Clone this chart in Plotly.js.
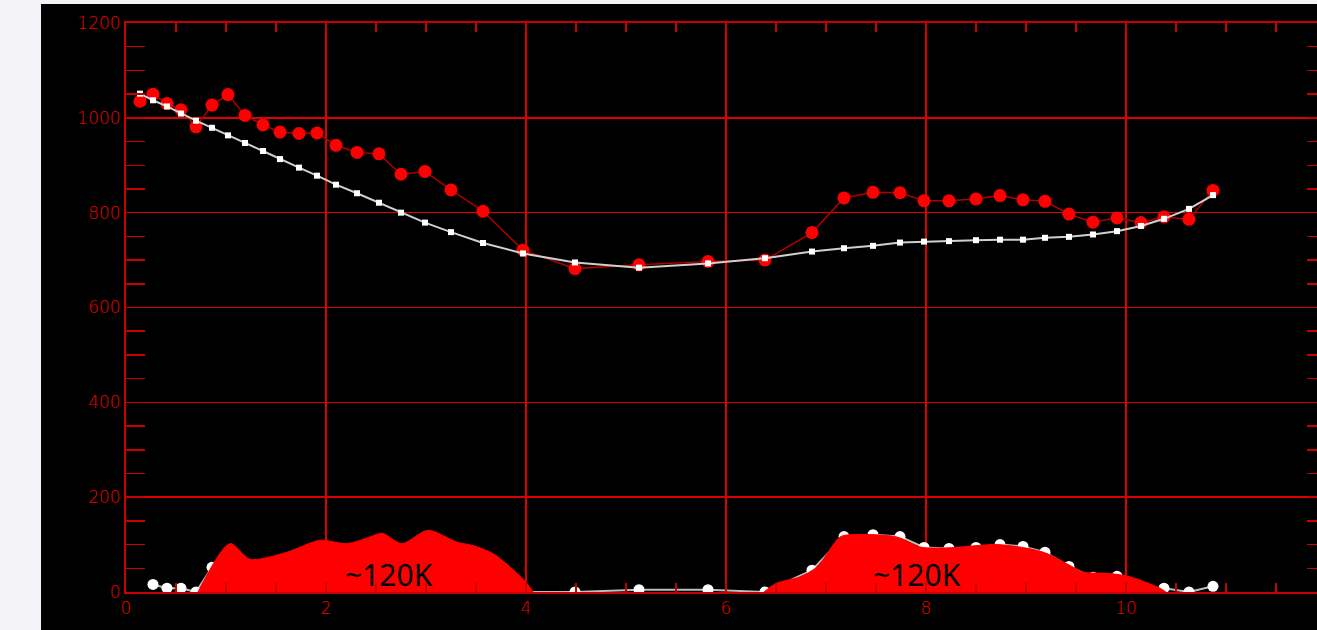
<!DOCTYPE html>
<html>
<head>
<meta charset="utf-8">
<script src="https://cdn.plot.ly/plotly-3.0.1.min.js"></script>
<style>
  html, body { margin: 0; padding: 0; background: #f3f3f8; overflow: hidden; width: 1317px; height: 630px; }
  #chart { position: absolute; left: 41px; top: 4px; width: 1285px; height: 626px; }
</style>
</head>
<body>
<div id="chart"></div>
<script>
// Shared sample positions
const xs = [0.14, 0.27, 0.41, 0.55, 0.70, 0.86, 1.02, 1.19, 1.37, 1.54, 1.73, 1.91, 2.10, 2.31, 2.53, 2.75, 2.99, 3.25, 3.57, 3.97,
            4.49, 5.13, 5.82, 6.39, 6.86, 7.18, 7.47, 7.74, 7.98, 8.23, 8.50, 8.74, 8.97, 9.19, 9.43, 9.67, 9.91, 10.15, 10.38, 10.63, 10.87];
// Red measured series
const redValues = [1035, 1050, 1030, 1017, 981, 1027, 1049, 1005, 985, 970, 967, 968, 942, 927, 924, 881, 887, 848, 803, 721,
                   682, 690, 697, 700, 758, 831, 843, 842, 825, 825, 829, 836, 827, 824, 797, 780, 789, 779, 791, 786, 847];
// White fitted series
const whiteValues = [1051, 1037, 1024, 1009, 994, 979, 963, 947, 930, 913, 895, 878, 859, 841, 821, 800, 779, 759, 736, 714,
                     695, 684, 693, 704, 718, 725, 730, 737, 739, 740, 742, 743, 743, 747, 749, 754, 761, 772, 787, 808, 837];
// White bottom (counts) series
const countValues = [null, 16, 8, 8, 0, 52, 70, 50, 55, 62, 72, 82, 80, 88, 92, 78, 92, 82, 66, 0,
                     0, 5, 5, 0, 46, 117, 121, 117, 94, 92, 94, 100, 96, 84, 54, 31, 33, 0, 8, 0, 12];
// Red filled humps (outline points)
const hump1X = [0.72, 1.04, 1.24, 1.61, 1.94, 2.21, 2.44, 2.56, 2.76, 3.02, 3.31, 3.47, 3.67, 3.84, 4.01, 4.07];
const hump1Y = [0, 102, 69, 84, 109, 102, 116, 124, 102, 130, 105, 98, 81, 53, 18, 0];
const hump2X = [6.38, 6.50, 6.74, 6.91, 7.14, 7.24, 7.71, 7.94, 8.21, 8.71, 9.04, 9.21, 9.44, 9.57, 9.84, 10.04, 10.34, 10.40];
const hump2Y = [0, 18, 32, 53, 116, 121, 116, 95, 93, 100, 91, 81, 56, 42, 39, 32, 8, 0];
// Labels
const humpLabels = ['~120K', '~120K'];
const humpLabelX = [2.63, 7.91];
const humpLabelY = [37, 37];

const gridRed = '#e00000';
const axisRed = '#c80000';
const tickFont = {family: 'DejaVu Sans', size: 17, color: '#ee0000', weight: 200};

const traces = [
  {x: xs, y: countValues, mode: 'lines+markers', type: 'scatter', connectgaps: false,
   line: {color: '#bdbdbd', width: 2}, marker: {color: '#ffffff', size: 11}, hoverinfo: 'skip'},
  {x: hump1X, y: hump1Y, mode: 'lines', type: 'scatter', fill: 'tozeroy', fillcolor: '#ff0000',
   line: {color: '#ff0000', width: 1, shape: 'spline', smoothing: 0.8}, hoverinfo: 'skip'},
  {x: hump2X, y: hump2Y, mode: 'lines', type: 'scatter', fill: 'tozeroy', fillcolor: '#ff0000',
   line: {color: '#ff0000', width: 1, shape: 'spline', smoothing: 0.8}, hoverinfo: 'skip'},
  {x: xs, y: redValues, mode: 'lines+markers', type: 'scatter',
   line: {color: '#b00000', width: 1.5}, marker: {color: '#ff0000', size: 13}},
  {x: xs, y: whiteValues, mode: 'lines+markers', type: 'scatter',
   line: {color: '#cfcfcf', width: 2}, marker: {color: '#ffffff', size: 6, symbol: 'square'}}
];

const annotations = humpLabels.map((t, i) => ({
  x: humpLabelX[i], y: humpLabelY[i], xref: 'x', yref: 'y', text: t, showarrow: false,
  font: {family: 'Noto Sans', size: 30, color: '#000000'}
}));

const layout = {
  width: 1285, height: 626,
  paper_bgcolor: '#000000', plot_bgcolor: '#000000',
  margin: {l: 85, r: 0, t: 19, b: 38.3},
  showlegend: false,
  xaxis: {
    range: [0, 12], dtick: 2, tick0: 0,
    showgrid: true, gridcolor: gridRed, gridwidth: 1.5, zeroline: false,
    showline: true, linecolor: axisRed, linewidth: 2, mirror: 'ticks',
    ticks: 'inside', ticklen: 9, tickcolor: axisRed, tickwidth: 1.5,
    minor: {dtick: 0.5, ticks: 'inside', ticklen: 9, tickcolor: axisRed, tickwidth: 1.5, showgrid: false},
    tickfont: tickFont
  },
  yaxis: {
    range: [0, 1200], dtick: 200, tick0: 0,
    showgrid: true, gridcolor: gridRed, gridwidth: 1.5, zeroline: false,
    showline: true, linecolor: axisRed, linewidth: 2, mirror: 'ticks',
    ticks: 'inside', ticklen: 19, tickcolor: axisRed, tickwidth: 1.5,
    minor: {dtick: 50, ticks: 'inside', ticklen: 19, tickcolor: axisRed, tickwidth: 1.5, showgrid: false},
    tickfont: tickFont
  },
  annotations: annotations
};

Plotly.newPlot('chart', traces, layout, {staticPlot: true, displayModeBar: false});
</script>
</body>
</html>
